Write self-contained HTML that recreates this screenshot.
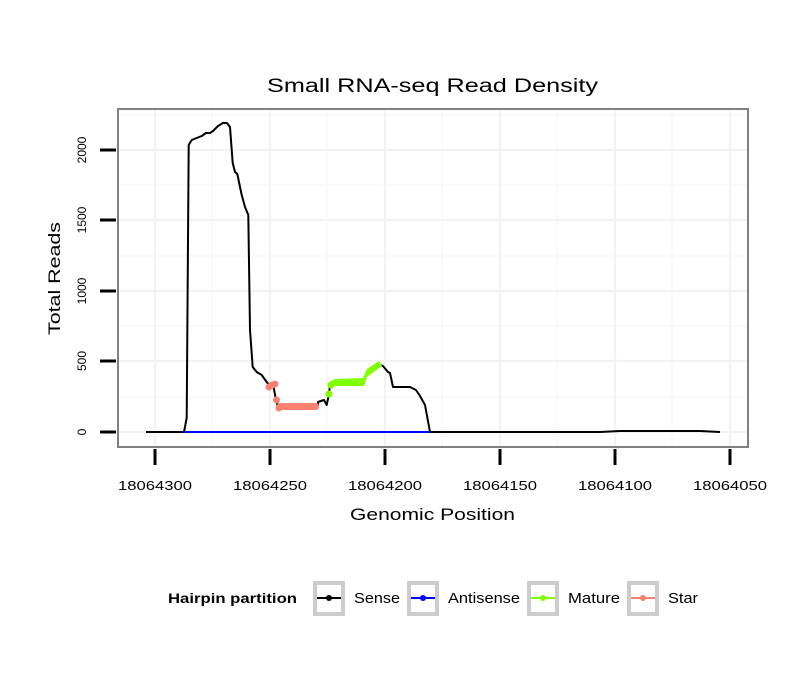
<!DOCTYPE html>
<html><head><meta charset="utf-8"><style>body{margin:0;background:#fff}svg text{font-family:"Liberation Sans",sans-serif}</style></head><body>
<svg width="810" height="690" xmlns="http://www.w3.org/2000/svg">
<rect width="810" height="690" fill="#fff"/>
<text x="267" y="92" font-size="19" textLength="331" lengthAdjust="spacingAndGlyphs">Small RNA-seq Read Density</text>
<g stroke="#f9f9f9" stroke-width="1.5">
<line x1="118" x2="748" y1="397" y2="397"/><line x1="118" x2="748" y1="326" y2="326"/><line x1="118" x2="748" y1="256" y2="256"/><line x1="118" x2="748" y1="185" y2="185"/><line x1="118" x2="748" y1="115" y2="115"/>
<line x1="212" x2="212" y1="110" y2="446"/><line x1="327" x2="327" y1="110" y2="446"/><line x1="442" x2="442" y1="110" y2="446"/><line x1="557" x2="557" y1="110" y2="446"/><line x1="672" x2="672" y1="110" y2="446"/>
</g>
<g stroke="#f3f3f3" stroke-width="2.2">
<line x1="118" x2="748" y1="432" y2="432"/><line x1="118" x2="748" y1="361" y2="361"/><line x1="118" x2="748" y1="291" y2="291"/><line x1="118" x2="748" y1="220" y2="220"/><line x1="118" x2="748" y1="150" y2="150"/>
<line x1="155" x2="155" y1="110" y2="446"/><line x1="270" x2="270" y1="110" y2="446"/><line x1="385" x2="385" y1="110" y2="446"/><line x1="500" x2="500" y1="110" y2="446"/><line x1="615" x2="615" y1="110" y2="446"/><line x1="730" x2="730" y1="110" y2="446"/>
</g>
<polyline fill="none" stroke="#000" stroke-width="2" stroke-linejoin="round" points="146,432 184,432 186.7,418 188.7,145 191.7,140 196.7,138 201.7,136 206,133 210,133 213,131 218,126 223,123 227,123 230,127 232.7,163 235,172 237.3,174 241.7,195 245,207 248.3,215 250,330 252.7,367 256.7,372 261.7,375 266.7,382 270,386 273,384 276,400 278,407 318,406 318,402 324,400 326.7,405 329,394 330,385 335,382 363,382 367,373 380,365 383,366 388,372 390,373 393,387 410,387 416,390 420,396 425,405 430,432 600,432 620,431 700,431 720,432"/>
<line x1="184" x2="430" y1="432" y2="432" stroke="#0000ff" stroke-width="2"/>
<g fill="#fa8072">
<circle cx="269" cy="387" r="3.5"/><circle cx="272" cy="385" r="3.5"/><circle cx="275" cy="384" r="3.5"/><circle cx="276.5" cy="400" r="3.5"/><circle cx="279" cy="408" r="3.5"/>
<rect x="277" y="403" width="42" height="7" rx="3"/>
</g>
<g fill="#7fff00">
<circle cx="329" cy="394" r="3.5"/><circle cx="331" cy="385" r="3.5"/>
<polygon points="329,382 335,379 363,378 367,369 379,361 382,366 367,377 364,386 335,386 329,388"/>
</g>
<rect x="118" y="109" width="630" height="338" fill="none" stroke="#808080" stroke-width="2"/>
<g stroke="#000" stroke-width="3">
<line x1="100" x2="116" y1="432" y2="432"/><line x1="100" x2="116" y1="361" y2="361"/><line x1="100" x2="116" y1="291" y2="291"/><line x1="100" x2="116" y1="220" y2="220"/><line x1="100" x2="116" y1="150" y2="150"/>
<line x1="155" x2="155" y1="449" y2="465"/><line x1="270" x2="270" y1="449" y2="465"/><line x1="385" x2="385" y1="449" y2="465"/><line x1="500" x2="500" y1="449" y2="465"/><line x1="615" x2="615" y1="449" y2="465"/><line x1="730" x2="730" y1="449" y2="465"/>
</g>
<g font-size="12" text-anchor="middle">
<text transform="translate(86,432) rotate(-90)">0</text>
<text transform="translate(86,361) rotate(-90)">500</text>
<text transform="translate(86,291) rotate(-90)">1000</text>
<text transform="translate(86,220) rotate(-90)">1500</text>
<text transform="translate(86,150) rotate(-90)">2000</text>
</g>
<g font-size="13">
<text x="118" y="490" textLength="74" lengthAdjust="spacingAndGlyphs">18064300</text>
<text x="233" y="490" textLength="74" lengthAdjust="spacingAndGlyphs">18064250</text>
<text x="348" y="490" textLength="74" lengthAdjust="spacingAndGlyphs">18064200</text>
<text x="463" y="490" textLength="74" lengthAdjust="spacingAndGlyphs">18064150</text>
<text x="578" y="490" textLength="74" lengthAdjust="spacingAndGlyphs">18064100</text>
<text x="693" y="490" textLength="74" lengthAdjust="spacingAndGlyphs">18064050</text>
</g>
<text x="350" y="520" font-size="17" textLength="165" lengthAdjust="spacingAndGlyphs">Genomic Position</text>
<text transform="translate(60,335) rotate(-90)" font-size="17" textLength="113" lengthAdjust="spacingAndGlyphs">Total Reads</text>
<text x="168" y="603" font-size="14" font-weight="bold" textLength="129" lengthAdjust="spacingAndGlyphs">Hairpin partition</text>
<g stroke="#cccccc" stroke-width="4" fill="#fff">
<rect x="315" y="583" width="28" height="31"/><rect x="409" y="583" width="28" height="31"/><rect x="529" y="583" width="28" height="31"/><rect x="629" y="583" width="28" height="31"/>
</g>
<g stroke-width="2">
<line x1="317" x2="341" y1="598" y2="598" stroke="#000"/><circle cx="329" cy="598" r="3" fill="#000"/>
<line x1="411" x2="435" y1="598" y2="598" stroke="#00f"/><circle cx="423" cy="598" r="3" fill="#00f"/>
<line x1="531" x2="555" y1="598" y2="598" stroke="#7fff00"/><circle cx="543" cy="598" r="3" fill="#7fff00"/>
<line x1="631" x2="655" y1="598" y2="598" stroke="#fa8072"/><circle cx="643" cy="598" r="3" fill="#fa8072"/>
</g>
<g font-size="15">
<text x="354" y="603" textLength="46" lengthAdjust="spacingAndGlyphs">Sense</text>
<text x="448" y="603" textLength="72" lengthAdjust="spacingAndGlyphs">Antisense</text>
<text x="568" y="603" textLength="52" lengthAdjust="spacingAndGlyphs">Mature</text>
<text x="668" y="603" textLength="30" lengthAdjust="spacingAndGlyphs">Star</text>
</g>
</svg>
</body></html>
